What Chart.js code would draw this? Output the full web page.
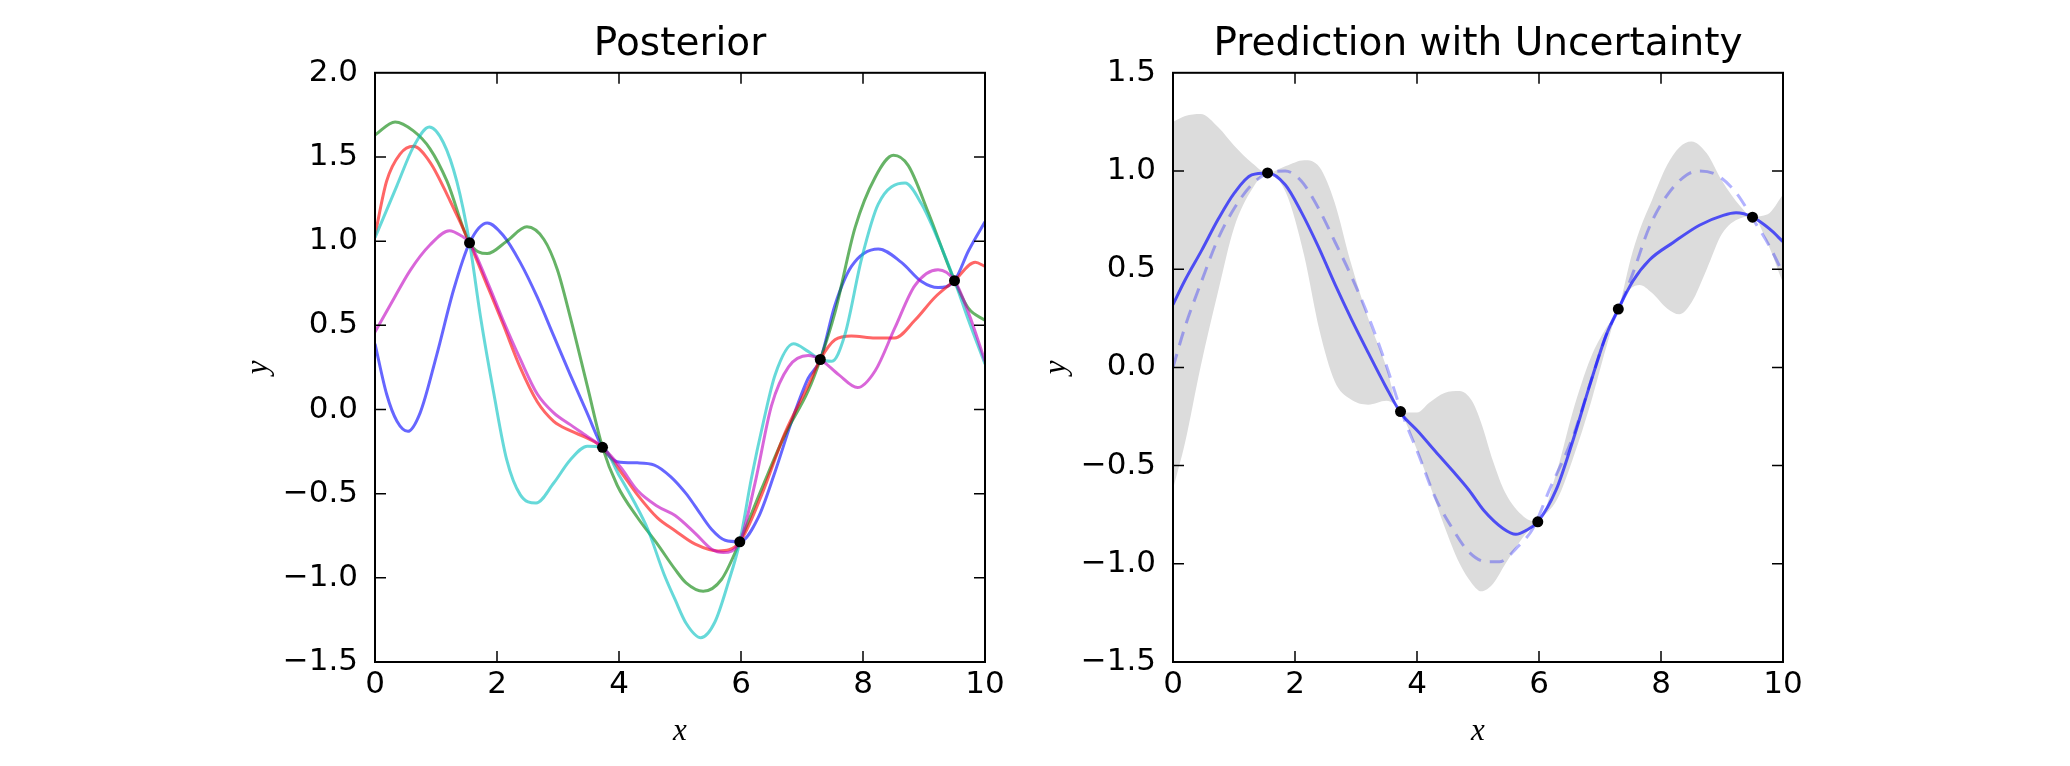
<!DOCTYPE html>
<html>
<head>
<meta charset="utf-8">
<script src="https://cdn.jsdelivr.net/npm/chart.js@4/dist/chart.umd.min.js"></script>
<style>
  body { margin: 0; background: #fff; }
  .panel { position: absolute; top: 0; }
</style>
</head>
<body>
<canvas id="posterior" class="panel" width="1130" height="766" style="left:0"></canvas>
<canvas id="prediction" class="panel" width="1035" height="766" style="left:1035px"></canvas>
<script>
// ticks
const xTicks = [0, 2, 4, 6, 8, 10];
const leftYTicks = [-1.5, -1.0, -0.5, 0.0, 0.5, 1.0, 1.5, 2.0];
const rightYTicks = [-1.5, -1.0, -0.5, 0.0, 0.5, 1.0, 1.5];

// observed points
const obsX = [1.55, 3.73, 5.98, 7.3, 9.5];
const obsY = [0.99, -0.225, -0.786, 0.297, 0.765];

// posterior samples (left panel)
const blueX = [0, 0.19, 0.36, 0.54, 0.74, 1.01, 1.29, 1.55, 1.84, 2.1, 2.38, 2.66, 2.93, 3.2, 3.48, 3.73, 3.97, 4.3, 4.58, 4.85, 5.1, 5.25, 5.52, 5.74, 5.98, 6.28, 6.56, 6.83, 7.1, 7.3, 7.54, 7.81, 8.25, 8.63, 8.96, 9.23, 9.5, 9.73, 10];
const blueY = [0.39, 0.092, -0.07, -0.13, -0.02, 0.322, 0.713, 0.99, 1.108, 1.035, 0.874, 0.667, 0.437, 0.207, -0.023, -0.225, -0.31, -0.317, -0.33, -0.4, -0.5, -0.575, -0.713, -0.777, -0.786, -0.644, -0.368, -0.07, 0.184, 0.297, 0.62, 0.85, 0.954, 0.874, 0.76, 0.724, 0.765, 0.943, 1.115];

const greenX = [0, 0.33, 0.63, 0.9, 1.18, 1.55, 1.84, 2.16, 2.49, 2.77, 2.99, 3.2, 3.48, 3.73, 3.97, 4.3, 4.63, 4.92, 5.1, 5.38, 5.68, 5.98, 6.34, 6.72, 7.1, 7.3, 7.54, 7.87, 8.2, 8.5, 8.74, 9.07, 9.5, 9.73, 10];
const greenY = [1.63, 1.708, 1.655, 1.55, 1.356, 0.99, 0.926, 1.0, 1.085, 1.01, 0.83, 0.55, 0.14, -0.225, -0.45, -0.64, -0.8, -0.95, -1.03, -1.08, -1.01, -0.786, -0.47, -0.15, 0.11, 0.297, 0.575, 1.08, 1.38, 1.51, 1.45, 1.17, 0.765, 0.6, 0.53];

const redX = [0, 0.19, 0.41, 0.63, 0.9, 1.23, 1.55, 1.84, 2.1, 2.38, 2.66, 2.93, 3.2, 3.48, 3.73, 4.03, 4.3, 4.63, 4.92, 5.25, 5.63, 5.98, 6.34, 6.72, 7.1, 7.3, 7.54, 7.81, 8.2, 8.52, 8.85, 9.18, 9.5, 9.84, 10];
const redY = [1.035, 1.356, 1.517, 1.563, 1.47, 1.24, 0.99, 0.736, 0.506, 0.25, 0.046, -0.07, -0.126, -0.17, -0.225, -0.37, -0.506, -0.644, -0.72, -0.8, -0.84, -0.786, -0.506, -0.14, 0.14, 0.297, 0.414, 0.437, 0.425, 0.425, 0.53, 0.667, 0.765, 0.874, 0.85];

const cyanX = [0, 0.36, 0.63, 0.89, 1.12, 1.34, 1.55, 1.73, 1.95, 2.16, 2.38, 2.64, 2.93, 3.2, 3.48, 3.73, 4.0, 4.25, 4.47, 4.74, 4.92, 5.1, 5.34, 5.57, 5.79, 5.98, 6.17, 6.37, 6.56, 6.86, 7.1, 7.3, 7.49, 7.7, 7.98, 8.25, 8.69, 8.96, 9.23, 9.5, 9.73, 10];
const cyanY = [1.02, 1.33, 1.56, 1.678, 1.586, 1.356, 0.99, 0.55, 0.09, -0.3, -0.506, -0.556, -0.437, -0.3, -0.218, -0.225, -0.39, -0.55, -0.71, -0.98, -1.13, -1.27, -1.356, -1.264, -1.03, -0.786, -0.41, -0.07, 0.207, 0.39, 0.345, 0.297, 0.287, 0.44, 0.9, 1.22, 1.345, 1.22, 1.01, 0.765, 0.53, 0.27];

const magentaX = [0, 0.25, 0.58, 0.9, 1.22, 1.4, 1.55, 1.84, 2.1, 2.38, 2.66, 2.93, 3.2, 3.48, 3.73, 4.03, 4.3, 4.63, 4.92, 5.25, 5.52, 5.71, 5.98, 6.23, 6.5, 6.78, 7.1, 7.3, 7.6, 7.91, 8.2, 8.52, 8.85, 9.23, 9.5, 9.73, 10];
const magentaY = [0.46, 0.62, 0.828, 0.977, 1.062, 1.035, 0.99, 0.76, 0.53, 0.3, 0.092, -0.02, -0.09, -0.16, -0.225, -0.345, -0.48, -0.575, -0.63, -0.736, -0.83, -0.85, -0.786, -0.437, 0.023, 0.253, 0.32, 0.297, 0.207, 0.13, 0.23, 0.483, 0.736, 0.83, 0.765, 0.575, 0.287];

// prediction (right panel)
const meanX = [0, 0.19, 0.47, 0.74, 1.01, 1.29, 1.55, 1.84, 2.1, 2.38, 2.66, 2.93, 3.2, 3.48, 3.73, 4.03, 4.3, 4.58, 4.85, 5.1, 5.41, 5.62, 5.79, 5.98, 6.28, 6.56, 6.83, 7.1, 7.3, 7.54, 7.81, 8.2, 8.63, 9.02, 9.23, 9.5, 9.78, 10];
const meanY = [0.32, 0.44, 0.596, 0.754, 0.89, 0.98, 0.99, 0.93, 0.793, 0.616, 0.42, 0.242, 0.075, -0.093, -0.23, -0.33, -0.427, -0.525, -0.624, -0.73, -0.82, -0.85, -0.83, -0.786, -0.624, -0.368, -0.093, 0.163, 0.297, 0.44, 0.547, 0.636, 0.724, 0.774, 0.787, 0.765, 0.705, 0.64];

const trueX = [0, 0.19, 0.47, 0.74, 1.01, 1.29, 1.56, 1.84, 2.1, 2.38, 2.66, 2.93, 3.2, 3.48, 3.75, 4.03, 4.3, 4.58, 4.85, 5.14, 5.35, 5.63, 5.9, 6.17, 6.56, 6.83, 7.1, 7.31, 7.54, 7.81, 8.09, 8.42, 8.63, 8.91, 9.23, 9.51, 9.78, 10];
const trueY = [0.0, 0.2, 0.44, 0.656, 0.813, 0.93, 0.99, 1.0, 0.95, 0.813, 0.636, 0.46, 0.262, 0.026, -0.23, -0.447, -0.663, -0.82, -0.94, -0.99, -0.99, -0.92, -0.82, -0.624, -0.35, -0.09, 0.163, 0.3, 0.48, 0.715, 0.872, 0.98, 1.0, 0.98, 0.89, 0.754, 0.616, 0.48];

const bandX = [0, 0.2, 0.45, 0.75, 1.0, 1.3, 1.55, 1.85, 2.15, 2.4, 2.65, 2.9, 3.2, 3.5, 3.73, 4.0, 4.2, 4.45, 4.7, 4.9, 5.05, 5.25, 5.45, 5.75, 5.98, 6.3, 6.55, 6.85, 7.1, 7.3, 7.5, 7.65, 7.85, 8.1, 8.3, 8.5, 8.75, 9.0, 9.3, 9.5, 9.75, 10];
const bandUpper = [1.25, 1.28, 1.29, 1.22, 1.13, 1.04, 0.99, 1.025, 1.055, 1.02, 0.84, 0.55, 0.25, 0.0, -0.23, -0.23, -0.18, -0.13, -0.12, -0.17, -0.28, -0.48, -0.64, -0.76, -0.785, -0.52, -0.23, 0.05, 0.2, 0.297, 0.55, 0.7, 0.85, 1.03, 1.12, 1.15, 1.09, 0.95, 0.82, 0.768, 0.78, 0.88];
const bandLower = [-0.62, -0.38, 0.0, 0.4, 0.71, 0.91, 0.99, 0.89, 0.57, 0.19, -0.07, -0.16, -0.19, -0.17, -0.23, -0.42, -0.59, -0.81, -1.0, -1.1, -1.14, -1.1, -1.0, -0.86, -0.785, -0.67, -0.47, -0.18, 0.1, 0.297, 0.4, 0.42, 0.38, 0.3, 0.27, 0.33, 0.5, 0.68, 0.76, 0.768, 0.63, 0.43];

const TICK_FONT = { family: "'DejaVu Sans'", size: 31 };
const LABEL_FONT = { family: "'Liberation Serif'", size: 31, style: 'italic' };

function pts(xs, ys) {
  return xs.map((x, i) => ({ x: x, y: ys[i] }));
}

function fmtNum(v, digits) {
  return v.toFixed(digits).replace('-', '\u2212');
}

function curve(xs, ys, color, extra) {
  return Object.assign({
    data: pts(xs, ys),
    borderColor: color,
    borderWidth: 3,
    pointRadius: 0,
    fill: false,
    cubicInterpolationMode: 'monotone'
  }, extra || {});
}

// matplotlib-like box with inward ticks
const framePlugin = {
  id: 'frame',
  afterDatasetsDraw(chart) {
    const { ctx, chartArea: a, scales } = chart;
    const len = 11;
    ctx.save();
    ctx.strokeStyle = '#000';
    ctx.lineWidth = 1.5;
    ctx.beginPath();
    scales.x.ticks.forEach((t) => {
      const px = scales.x.getPixelForValue(t.value);
      if (px <= a.left + 1 || px >= a.right - 1) return;
      ctx.moveTo(px, a.bottom); ctx.lineTo(px, a.bottom - len);
      ctx.moveTo(px, a.top); ctx.lineTo(px, a.top + len);
    });
    scales.y.ticks.forEach((t) => {
      const py = scales.y.getPixelForValue(t.value);
      if (py <= a.top + 1 || py >= a.bottom - 1) return;
      ctx.moveTo(a.left, py); ctx.lineTo(a.left + len, py);
      ctx.moveTo(a.right, py); ctx.lineTo(a.right - len, py);
    });
    ctx.stroke();
    ctx.lineWidth = 2;
    ctx.strokeRect(a.left, a.top, a.right - a.left, a.bottom - a.top);
    ctx.restore();
  }
};

function makeOptions(title, yTicks, padLeft, padRight) {
  return {
    responsive: false,
    animation: false,
    devicePixelRatio: 1,
    layout: { padding: { left: padLeft, right: padRight, top: 0, bottom: 0 } },
    plugins: {
      legend: { display: false },
      tooltip: { enabled: false },
      title: {
        display: true,
        text: title,
        color: '#000',
        font: { family: "'DejaVu Sans'", size: 39, weight: 'normal' },
        padding: { top: 21, bottom: 5 }
      }
    },
    scales: {
      x: {
        type: 'linear',
        min: 0,
        max: 10,
        afterBuildTicks: (s) => { s.ticks = xTicks.map((v) => ({ value: v })); },
        afterFit: (s) => { s.height = 104; },
        grid: { display: false, drawTicks: false },
        border: { display: false },
        ticks: {
          color: '#000',
          font: TICK_FONT,
          padding: 4,
          maxRotation: 0,
          autoSkip: false,
          callback: (v) => fmtNum(v, 0)
        },
        title: { display: true, text: 'x', color: '#000', font: LABEL_FONT, padding: { top: 0, bottom: 16 } }
      },
      y: {
        type: 'linear',
        min: yTicks[0],
        max: yTicks[yTicks.length - 1],
        afterBuildTicks: (s) => { s.ticks = yTicks.map((v) => ({ value: v })); },
        afterFit: (s) => { s.width = 135; },
        grid: { display: false, drawTicks: false },
        border: { display: false },
        ticks: {
          color: '#000',
          font: TICK_FONT,
          padding: 17,
          autoSkip: false,
          callback: (v) => fmtNum(v, 1)
        },
        title: { display: true, text: 'y', color: '#000', font: LABEL_FONT, padding: { top: 0, bottom: 0 } }
      },
      // empty spacer on the right so the title centres over the plot box
      spacer: {
        type: 'linear',
        position: 'right',
        min: 0,
        max: 1,
        afterFit: (s) => { s.width = 135; },
        grid: { display: false, drawTicks: false },
        border: { display: false },
        ticks: { display: false }
      }
    }
  };
}

const obsSet = {
  data: pts(obsX, obsY),
  showLine: false,
  pointRadius: 5.5,
  pointBackgroundColor: '#000',
  pointBorderColor: '#000',
  pointBorderWidth: 0
};

new Chart(document.getElementById('posterior'), {
  type: 'line',
  data: {
    datasets: [
      Object.assign({}, obsSet),
      curve(magentaX, magentaY, 'rgba(191,0,191,0.6)'),
      curve(cyanX, cyanY, 'rgba(0,191,191,0.6)'),
      curve(redX, redY, 'rgba(255,0,0,0.6)'),
      curve(greenX, greenY, 'rgba(0,128,0,0.6)'),
      curve(blueX, blueY, 'rgba(0,0,255,0.6)')
    ]
  },
  options: makeOptions('Posterior', leftYTicks, 240, 10),
  plugins: [framePlugin]
});

new Chart(document.getElementById('prediction'), {
  type: 'line',
  data: {
    datasets: [
      Object.assign({}, obsSet),
      curve(meanX, meanY, 'rgba(0,0,255,0.65)'),
      curve(trueX, trueY, 'rgba(0,0,255,0.3)', { borderDash: [14, 9] }),
      curve(bandX, bandUpper, 'rgba(0,0,0,0)', { borderWidth: 0, fill: '+1', backgroundColor: '#dcdcdc' }),
      curve(bandX, bandLower, 'rgba(0,0,0,0)', { borderWidth: 0 })
    ]
  },
  options: makeOptions('Prediction with Uncertainty', rightYTicks, 3, 152),
  plugins: [framePlugin]
});
</script>
</body>
</html>
